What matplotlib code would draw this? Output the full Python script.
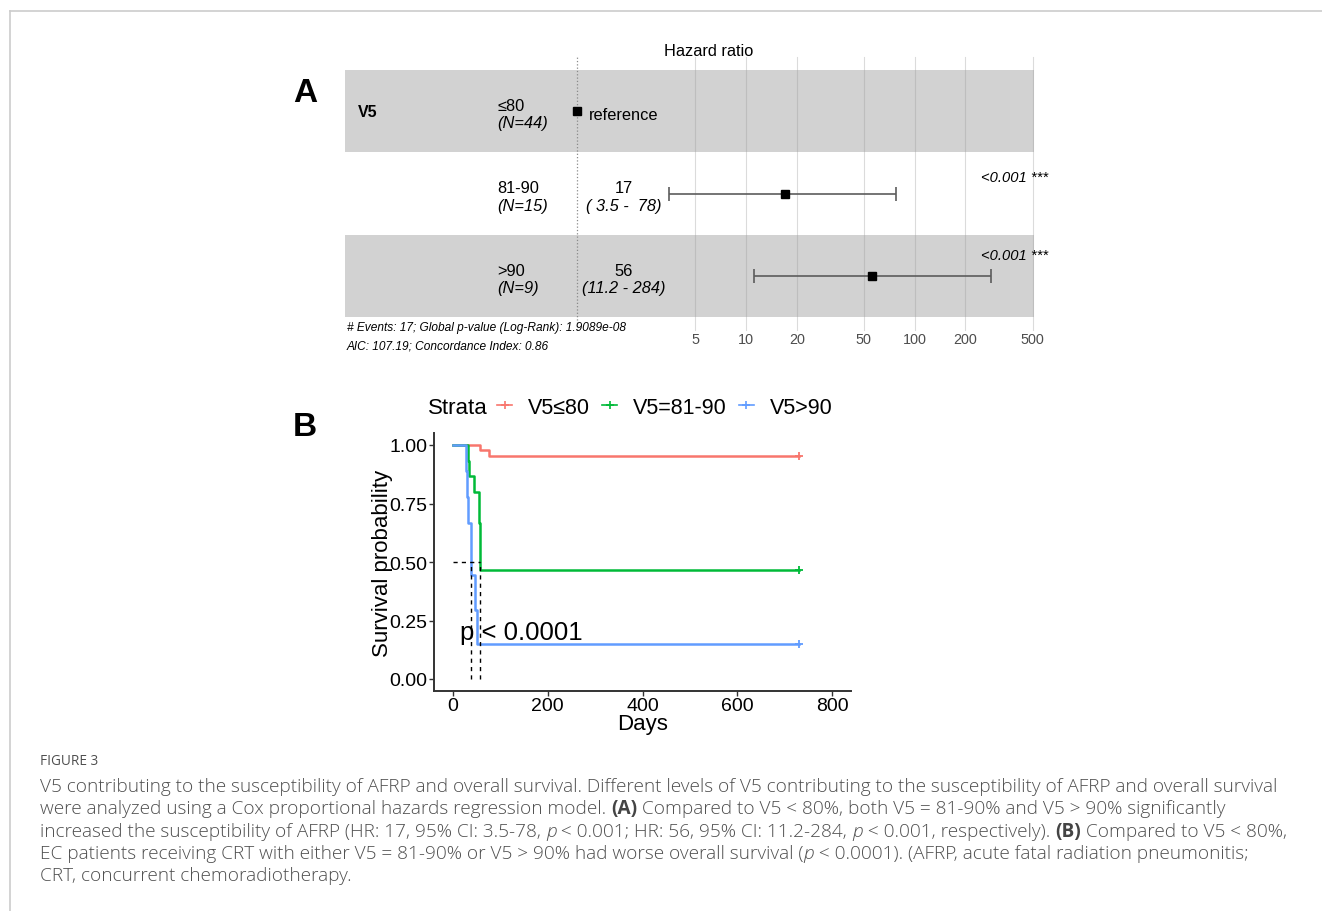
import numpy as np
import matplotlib
matplotlib.use('Agg')
import matplotlib.pyplot as plt
from matplotlib.ticker import NullLocator

W, H = 1322, 912

### Panel A: Cox model (forest plot)
groups = ['\u226480', '81-90', '>90']
group_n = [44, 15, 9]
hr = [1.0, 17, 56]
hr_low = [1.0, 3.5, 11.2]
hr_high = [1.0, 78, 284]
hr_text = ['reference', '17', '56']
ci_text = ['', '( 3.5 -  78)', '(11.2 - 284)']
p_text = ['', '<0.001 ***', '<0.001 ***']
hr_ticks = [5, 10, 20, 50, 100, 200, 500]
n_events = 17
global_p = '1.9089e-08'
aic = 107.19
c_index = 0.86

### Panel B: Kaplan-Meier curves
strata = ['V5\u226480', 'V5=81-90', 'V5>90']
km_colors = ['#F8766D', '#00BA38', '#619CFF']
km_time = [
    [0, 58, 77, 730],
    [0, 31, 33, 45, 55, 58, 730],
    [0, 28, 30, 32, 38, 46, 51, 730],
]
km_surv = [
    [1.0, 0.977, 0.955, 0.955],
    [1.0, 0.933, 0.867, 0.800, 0.667, 0.467, 0.467],
    [1.0, 0.889, 0.778, 0.667, 0.444, 0.296, 0.148, 0.148],
]
pval_label = 'p < 0.0001'

### Caption
cap_title = 'FIGURE 3'
cap_lines = [
    [("V5 contributing to the susceptibility of AFRP and overall survival. Different levels of V5 contributing to the susceptibility of AFRP and overall survival", 'n')],
    [("were analyzed using a Cox proportional hazards regression model. ", 'n'), ("(A)", 'b'),
     (" Compared to V5 < 80%, both V5 = 81-90% and V5 > 90% significantly", 'n')],
    [("increased the susceptibility of AFRP (HR: 17, 95% CI: 3.5-78, ", 'n'), ("p", 'i'),
     (" < 0.001; HR: 56, 95% CI: 11.2-284, ", 'n'), ("p", 'i'), (" < 0.001, respectively). ", 'n'),
     ("(B)", 'b'), (" Compared to V5 < 80%,", 'n')],
    [("EC patients receiving CRT with either V5 = 81-90% or V5 > 90% had worse overall survival (", 'n'),
     ("p", 'i'), (" < 0.0001). (AFRP, acute fatal radiation pneumonitis;", 'n')],
    [("CRT, concurrent chemoradiotherapy.", 'n')],
]

SANS = ['Liberation Sans', 'DejaVu Sans']
CAP = ['Open Sans', 'DejaVu Sans']

def fx(px):
    return px / W

def fy(py):
    return 1 - py / H

fig = plt.figure(figsize=(W / 100, H / 100), dpi=100)
fig.patch.set_facecolor('white')

### panel frame (only top and left edges are in view)
fig.add_artist(plt.Line2D([fx(10), 1], [fy(11.5), fy(11.5)], color='#cccccc', lw=1.2))
fig.add_artist(plt.Line2D([fx(10), fx(10)], [0, fy(11.5)], color='#cccccc', lw=1.2))

### ---------------- Panel A ----------------
ax = fig.add_axes([fx(345), fy(318), (1034 - 345) / W, (318 - 71) / H])
ax.set_xscale('log')
ax.set_xlim(0.042, 510)
ax.set_ylim(3, 0)
for i in range(3):
    if i % 2 == 0:
        ax.axhspan(i, i + 1, color='#d2d2d2', lw=0, zorder=0)
for tk in hr_ticks:
    ax.axvline(tk, ymin=-0.053, ymax=1.053, color='#9a9a9a', alpha=0.35, lw=0.8,
               zorder=1, clip_on=False)
ax.axvline(1, ymin=-0.053, ymax=1.053, color='#8a8a8a', ls=':', lw=0.9, zorder=1, clip_on=False)

ytr = ax.get_yaxis_transform()
ax.text(0.019, 0.5, 'V5', transform=ytr, ha='left', va='center', fontsize=11.5,
        fontweight='bold', family=SANS)
for i in range(3):
    yc = i + 0.5
    ax.text(0.221, yc - 0.07, groups[i], transform=ytr, ha='left', va='center',
            fontsize=11.8, family=SANS)
    ax.text(0.221, yc + 0.14, '(N=%d)' % group_n[i], transform=ytr, ha='left', va='center',
            fontsize=11.8, style='italic', family=SANS)
    if i == 0:
        ax.plot(hr[i], yc, 's', color='k', ms=6, zorder=3)
        ax.text(0.354, yc + 0.04, hr_text[i], transform=ytr, ha='left', va='center',
                fontsize=11.8, family=SANS)
        continue
    ax.errorbar(hr[i], yc, xerr=[[hr[i] - hr_low[i]], [hr_high[i] - hr[i]]], fmt='s',
                color='k', ms=6, ecolor='#5c5c5c', elinewidth=1.2, capsize=5, capthick=1.2,
                zorder=3)
    ax.text(0.405, yc - 0.07, hr_text[i], transform=ytr, ha='center', va='center',
            fontsize=11.8, family=SANS)
    ax.text(0.405, yc + 0.14, ci_text[i], transform=ytr, ha='center', va='center',
            fontsize=11.8, style='italic', family=SANS)
    ax.text(1.02, yc - 0.2 - 0.05 * (i - 1), p_text[i], transform=ytr, ha='right', va='center',
            fontsize=10.6, style='italic', family=SANS)

ax.set_xticks(hr_ticks)
ax.set_xticklabels([str(t) for t in hr_ticks])
ax.xaxis.set_minor_locator(NullLocator())
ax.tick_params(axis='x', length=0, pad=11, labelsize=10.4, labelcolor='#4d4d4d')
for lab in ax.get_xticklabels():
    lab.set_family(SANS)
ax.set_yticks([])
for s in ax.spines.values():
    s.set_visible(False)
ax.set_facecolor('none')

fig.text(fx(709), fy(52), 'Hazard ratio', ha='center', va='center', fontsize=11.8, family=SANS)
fig.text(fx(347), fy(328), '# Events: %d; Global p-value (Log-Rank): %s' % (n_events, global_p),
         ha='left', va='center', fontsize=8.6, style='italic', family=SANS)
fig.text(fx(347), fy(347), 'AIC: %.2f; Concordance Index: %.2f' % (aic, c_index),
         ha='left', va='center', fontsize=8.6, style='italic', family=SANS)
fig.text(fx(305), fy(94), 'A', ha='center', va='center', fontsize=24, fontweight='bold', family=SANS)

### ---------------- Panel B ----------------
ax2 = fig.add_axes([fx(434), fy(691.7), (851 - 434) / W, (691.7 - 434.3) / H])
ax2.set_xlim(-40, 840)
ax2.set_ylim(-0.05, 1.05)
for k in range(3):
    ax2.step(km_time[k], km_surv[k], where='post', color=km_colors[k], lw=1.8, zorder=2 + k)
    ax2.plot(km_time[k][-1], km_surv[k][-1], '+', color=km_colors[k], ms=6, mew=1.3, zorder=2 + k)

### median survival lines
medians = []
for k in range(3):
    s = np.array(km_surv[k])
    if np.any(s <= 0.5):
        medians.append(km_time[k][int(np.argmax(s <= 0.5))])
ax2.hlines(0.5, 0, max(medians), colors='k', linestyles=(0, (3, 3)), lw=1.0, zorder=6)
ax2.vlines(medians, 0, 0.5, colors='k', linestyles=(0, (3, 3)), lw=1.0, zorder=6)

ax2.text(15, 0.2, pval_label, ha='left', va='center', fontsize=18.5, family=SANS, zorder=7)

ax2.set_xticks([0, 200, 400, 600, 800])
ax2.set_yticks([0, 0.25, 0.5, 0.75, 1.0])
ax2.set_yticklabels(['0.00', '0.25', '0.50', '0.75', '1.00'])
ax2.tick_params(axis='both', length=3.5, width=1.0, color='#333333', labelsize=14, pad=1.0)
for lab in ax2.get_xticklabels() + ax2.get_yticklabels():
    lab.set_family(SANS)
ax2.spines['top'].set_visible(False)
ax2.spines['right'].set_visible(False)
for s in ['left', 'bottom']:
    ax2.spines[s].set_linewidth(1.4)
    ax2.spines[s].set_color('#333333')
ax2.set_xlabel('Days', fontsize=16, family=SANS, labelpad=-0.5)
ax2.set_ylabel('Survival probability', fontsize=16, family=SANS, labelpad=-2)

### legend on top
fig.text(fx(428), fy(408), 'Strata', ha='left', va='center', fontsize=16, family=SANS)
handles = [plt.Line2D([], [], color=c, marker='+', lw=1.2, ms=6, mew=1.2) for c in km_colors]
leg = fig.legend(handles, strata, loc='center left', bbox_to_anchor=(fx(497), fy(408)),
                 ncol=3, frameon=False, handlelength=0.7, handletextpad=0.75, columnspacing=0.55,
                 borderpad=0, borderaxespad=0, prop={'family': SANS, 'size': 15.5})
fig.text(fx(305), fy(428), 'B', ha='center', va='center', fontsize=24, fontweight='bold', family=SANS)

### ---------------- Caption ----------------
renderer = fig.canvas.get_renderer()

def style_kw(st, size):
    kw = dict(fontsize=size, family=CAP, color='#4f4f4f', fontweight=300)
    if st == 'b':
        kw['fontweight'] = 'bold'
        kw['color'] = '#444444'
    elif st == 'i':
        kw['style'] = 'italic'
    return kw

def text_width(s, kw):
    t1 = fig.text(0, 0, s + '|', **kw)
    t2 = fig.text(0, 0, '|', **kw)
    w = t1.get_window_extent(renderer).width - t2.get_window_extent(renderer).width
    t1.remove()
    t2.remove()
    return w

### fit the font size so the first caption line spans like the original (x 40 to 1281)
base = 12.0
w0 = sum(text_width(s, style_kw(st, base)) for s, st in cap_lines[0])
cap_size = base * 1239 / w0

fig.text(fx(40), fy(762), cap_title, ha='left', va='center', fontsize=9.8, family=CAP,
         color='#4f4f4f')
line_y = [787, 809.5, 832, 854, 876.5]
for yy, runs in zip(line_y, cap_lines):
    x = 40
    for s, st in runs:
        kw = style_kw(st, cap_size)
        fig.text(fx(x), fy(yy), s, ha='left', va='center', **kw)
        x += text_width(s, kw)

fig.savefig('out.png', dpi=100, facecolor='white')
